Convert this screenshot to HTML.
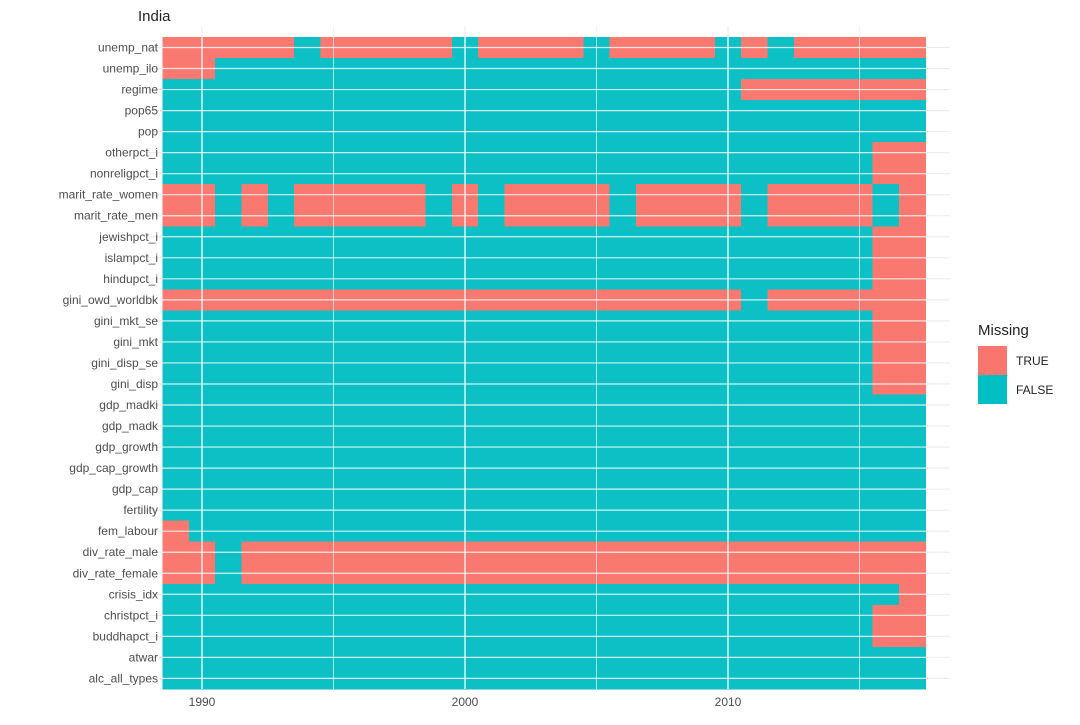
<!DOCTYPE html>
<html><head><meta charset="utf-8"><style>
body{margin:0;background:#fff;font-family:"Liberation Sans",sans-serif}
</style></head><body>
<svg id="c" width="1080" height="720" xmlns="http://www.w3.org/2000/svg"></svg>
<script>
const variables=["unemp_nat","unemp_ilo","regime","pop65","pop","otherpct_i","nonreligpct_i","marit_rate_women","marit_rate_men","jewishpct_i","islampct_i","hindupct_i","gini_owd_worldbk","gini_mkt_se","gini_mkt","gini_disp_se","gini_disp","gdp_madki","gdp_madk","gdp_growth","gdp_cap_growth","gdp_cap","fertility","fem_labour","div_rate_male","div_rate_female","crisis_idx","christpct_i","buddhapct_i","atwar","alc_all_types"];
const years=[1989,1990,1991,1992,1993,1994,1995,1996,1997,1998,1999,2000,2001,2002,2003,2004,2005,2006,2007,2008,2009,2010,2011,2012,2013,2014,2015,2016,2017];
const xTicks=[1990,2000,2010];
const rel=[2016,2017];
const marit=[1989,1990,1992,1994,1995,1996,1997,1998,2000,2002,2003,2004,2005,2007,2008,2009,2010,2012,2013,2014,2015,2017];
const missingYears={
unemp_nat:[1989,1990,1991,1992,1993,1995,1996,1997,1998,1999,2001,2002,2003,2004,2006,2007,2008,2009,2011,2013,2014,2015,2016,2017],
unemp_ilo:[1989,1990],
regime:[2011,2012,2013,2014,2015,2016,2017],
otherpct_i:rel,nonreligpct_i:rel,
marit_rate_women:marit,marit_rate_men:marit,
jewishpct_i:rel,islampct_i:rel,hindupct_i:rel,
gini_owd_worldbk:[1989,1990,1991,1992,1993,1994,1995,1996,1997,1998,1999,2000,2001,2002,2003,2004,2005,2006,2007,2008,2009,2010,2012,2013,2014,2015,2016,2017],
gini_mkt_se:rel,gini_mkt:rel,gini_disp_se:rel,gini_disp:rel,
fem_labour:[1989],
div_rate_male:[1989,1990,1992,1993,1994,1995,1996,1997,1998,1999,2000,2001,2002,2003,2004,2005,2006,2007,2008,2009,2010,2011,2012,2013,2014,2015,2016,2017],
div_rate_female:[1989,1990,1992,1993,1994,1995,1996,1997,1998,1999,2000,2001,2002,2003,2004,2005,2006,2007,2008,2009,2010,2011,2012,2013,2014,2015,2016,2017],
crisis_idx:[2017],christpct_i:rel,buddhapct_i:rel
};
const NS="http://www.w3.org/2000/svg";
const svg=document.getElementById('c');
const PX=26.3;
const xs=y=>202+(y-1990)*PX;
const ROW=21.03;
const ys=i=>47.5+i*ROW;
function el(t,a,p){const e=document.createElementNS(NS,t);for(const k in a)e.setAttribute(k,a[k]);(p||svg).appendChild(e);return e;}
for(let i=0;i<variables.length;i++){const g=el('line',{x1:148,x2:950,y1:ys(i),y2:ys(i),stroke:'#ebebeb','stroke-width':1.1});

}
[1990,1995,2000,2005,2010,2015].forEach(y=>{const g=el('line',{x1:xs(y),x2:xs(y),y1:26,y2:690,stroke:'#ebebeb','stroke-width':y%10==0?1.1:0.55});

});
const tg=el('g',{'shape-rendering':'crispEdges'});
variables.forEach((v,i)=>{const miss=missingYears[v]||[];
years.forEach(y=>{const m=miss.includes(y);
const r=el('rect',{x:xs(y)-PX/2,y:ys(i)-ROW/2,width:PX+0.6,height:ROW+0.6,fill:m?'#F97970':'#0CC0C5'},tg);

});});
for(let i=0;i<variables.length;i++){el('line',{x1:162,x2:927,y1:ys(i),y2:ys(i),stroke:'#fff','stroke-width':1.2,'stroke-opacity':0.8});}
[1990,1995,2000,2005,2010,2015].forEach(y=>{el('line',{x1:xs(y),x2:xs(y),y1:36,y2:689,stroke:'#fff','stroke-width':y%10==0?1.6:0.8,'stroke-opacity':0.8});});
variables.forEach((v,i)=>{const t=el('text',{x:158,y:ys(i)+4,'text-anchor':'end','font-size':12,fill:'#4d4d4d'});t.textContent=v;

});
xTicks.forEach(y=>{const t=el('text',{x:xs(y),y:706,'text-anchor':'middle','font-size':12,fill:'#4d4d4d'});t.textContent=y;

});
const ti=el('text',{x:138,y:21,'font-size':15,fill:'#222'});ti.textContent='India';


const lg=el('g',{});


el('text',{x:978,y:335,'font-size':15,fill:'#222'},lg).textContent='Missing';
[['TRUE','#F8766D'],['FALSE','#00BFC4']].forEach((d,k)=>{
el('rect',{x:978,y:346+k*29,width:29,height:29,fill:d[1]},lg);
el('text',{x:1016,y:365+k*29,'font-size':12,fill:'#222'},lg).textContent=d[0];});
</script>
</body></html>
